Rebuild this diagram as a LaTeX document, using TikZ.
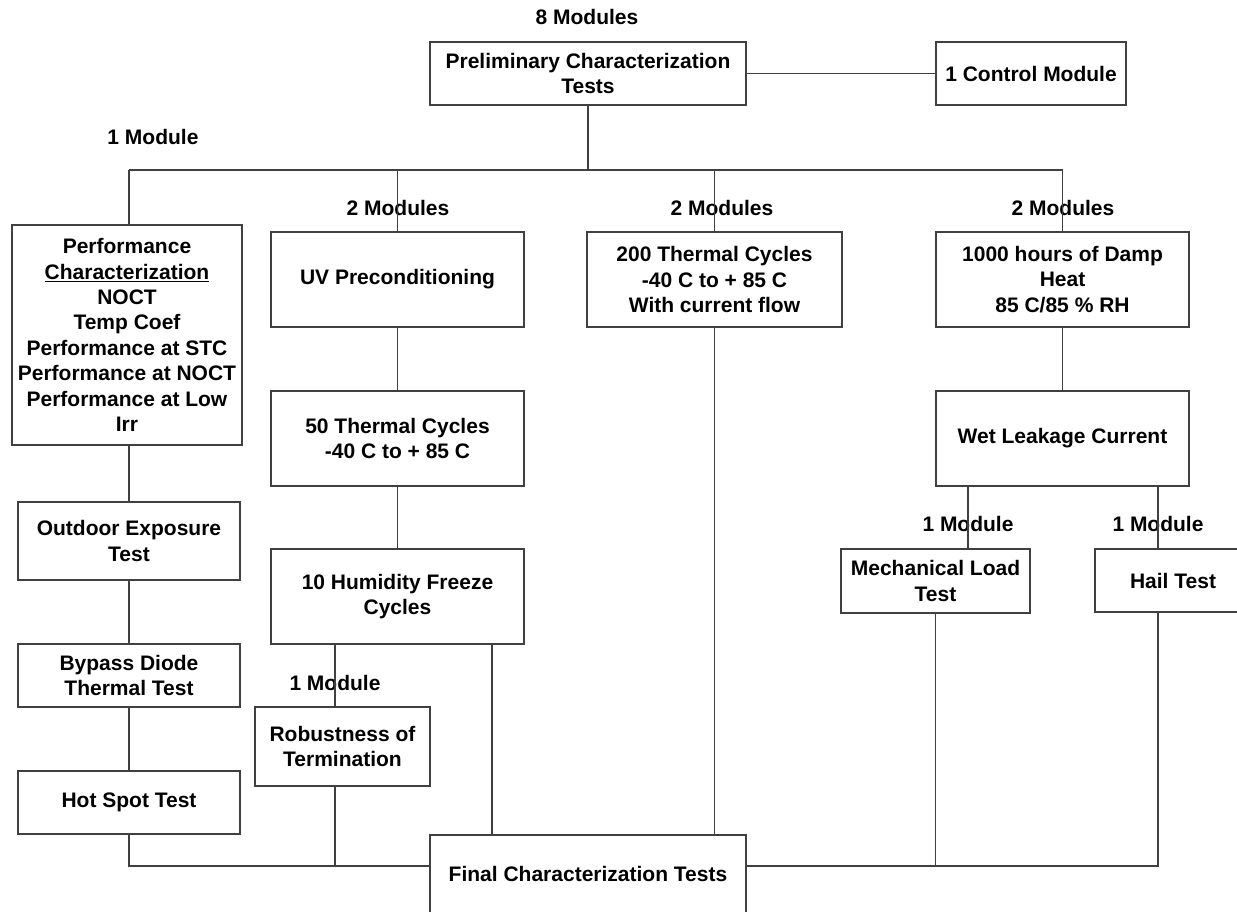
\documentclass[tikz,border=0pt]{standalone}
\usepackage{fontspec}
\setmainfont{Liberation Sans}
\begin{document}
\begin{tikzpicture}[x=1pt,y=-1pt,
  every node/.style={font=\fontsize{21}{25.4}\selectfont\bfseries, text=black},
  box/.style={draw=black!75, line width=1.5pt, fill=white, inner sep=0pt, align=center, anchor=center},
  lab/.style={inner sep=0pt, anchor=center},
  link/.style={draw=black!75, line width=1.3pt}]
\useasboundingbox (0,0) rectangle (1237,911);
\clip (0,0) rectangle (1237,911);
\fill[white] (0,0) rectangle (1237,911);
% coordinates for buses
\coordinate (bus) at (0,170);
\coordinate (bot) at (0,866);
% labels
\node[lab] (l8) at (587,17) {8 Modules};
\node[lab] (l1) at (153,137) {1 Module};
\node[lab] (luv) at (398,208) {2 Modules};
\node[lab] (lth) at (722,208) {2 Modules};
\node[lab] (ldh) at (1063,208) {2 Modules};
\node[lab] (lrb) at (335,683) {1 Module};
\node[lab] (lmc) at (968,524) {1 Module};
\node[lab] (lhl) at (1158,524) {1 Module};
% boxes
\node[box, minimum width=316, minimum height=63] (prelim) at (588,73.5) {Preliminary Characterization\\Tests};
\node[box, minimum width=190, minimum height=63] (control) at (1031,73.5) {1 Control Module};
\node[box, minimum width=230, minimum height=220] (perf) at (127,335) {Performance\\\underline{Characterization}\\NOCT\\Temp Coef\\Performance at STC\\Performance at NOCT\\Performance at Low\\Irr};
\node[box, minimum width=253, minimum height=95] (uv) at (397.5,279.5) {UV Preconditioning};
\node[box, minimum width=255, minimum height=95] (th200) at (714.5,279.5) {200 Thermal Cycles\\-40 C to + 85 C\\With current flow};
\node[box, minimum width=253, minimum height=95] (damp) at (1062.5,279.5) {1000 hours of Damp\\Heat\\85 C/85 \% RH};
\node[box, minimum width=253, minimum height=95] (th50) at (397.5,438.5) {50 Thermal Cycles\\-40 C to + 85 C};
\node[box, minimum width=253, minimum height=95] (wet) at (1062.5,438.5) {Wet Leakage Current};
\node[box, minimum width=222, minimum height=78] (outdoor) at (129,541) {Outdoor Exposure\\Test};
\node[box, minimum width=253, minimum height=95] (humid) at (397.5,596.5) {10 Humidity Freeze\\Cycles};
\node[box, minimum width=222, minimum height=63] (bypass) at (129,675.5) {Bypass Diode\\Thermal Test};
\node[box, minimum width=175, minimum height=79] (robust) at (342.5,746.5) {Robustness of\\Termination};
\node[box, minimum width=222, minimum height=63] (hotspot) at (129,802.5) {Hot Spot Test};
\node[box, minimum width=189, minimum height=64] (mech) at (935.5,581) {Mechanical Load\\Test};
\node[box, minimum width=156, minimum height=63] (hail) at (1173,580.5) {Hail Test};
\node[box, minimum width=316, minimum height=78] (final) at (588,874) {Final Characterization Tests};
% connectors
\draw[link] (prelim.east) -- (control.west);
\draw[link] (prelim.south) -- (prelim.south |- bus);
\draw[link] (outdoor.north |- bus) -- (damp.north |- bus);
\draw[link] (outdoor.north |- bus) -- (outdoor.north |- perf.north);
\draw[link] (uv.north |- bus) -- (uv.north);
\draw[link] (th200.north |- bus) -- (th200.north);
\draw[link] (damp.north |- bus) -- (damp.north);
\draw[link] (perf.south -| outdoor.north) -- (outdoor.north);
\draw[link] (outdoor.south) -- (bypass.north);
\draw[link] (bypass.south) -- (hotspot.north);
\draw[link] (uv.south) -- (th50.north);
\draw[link] (th50.south) -- (humid.north);
\draw[link] (lrb |- humid.south) -- (lrb |- robust.north);
\draw[link] ([xshift=94.5pt]humid.south) -- ([xshift=94.5pt]humid.south |- final.north);
\draw[link] (th200.south) -- (th200.south |- final.north);
\draw[link] (damp.south) -- (wet.north);
\draw[link] (lmc |- wet.south) -- (lmc |- mech.north);
\draw[link] (lhl |- wet.south) -- (lhl |- hail.north);
\draw[link] (hotspot.south) -- (hotspot.south |- bot) -- (final.west |- bot);
\draw[link] (lrb |- robust.south) -- (lrb |- bot);
\draw[link] (final.east |- bot) -- (lhl |- bot) -- (lhl |- hail.south);
\draw[link] (mech.south) -- (mech.south |- bot);
\end{tikzpicture}
\end{document}
